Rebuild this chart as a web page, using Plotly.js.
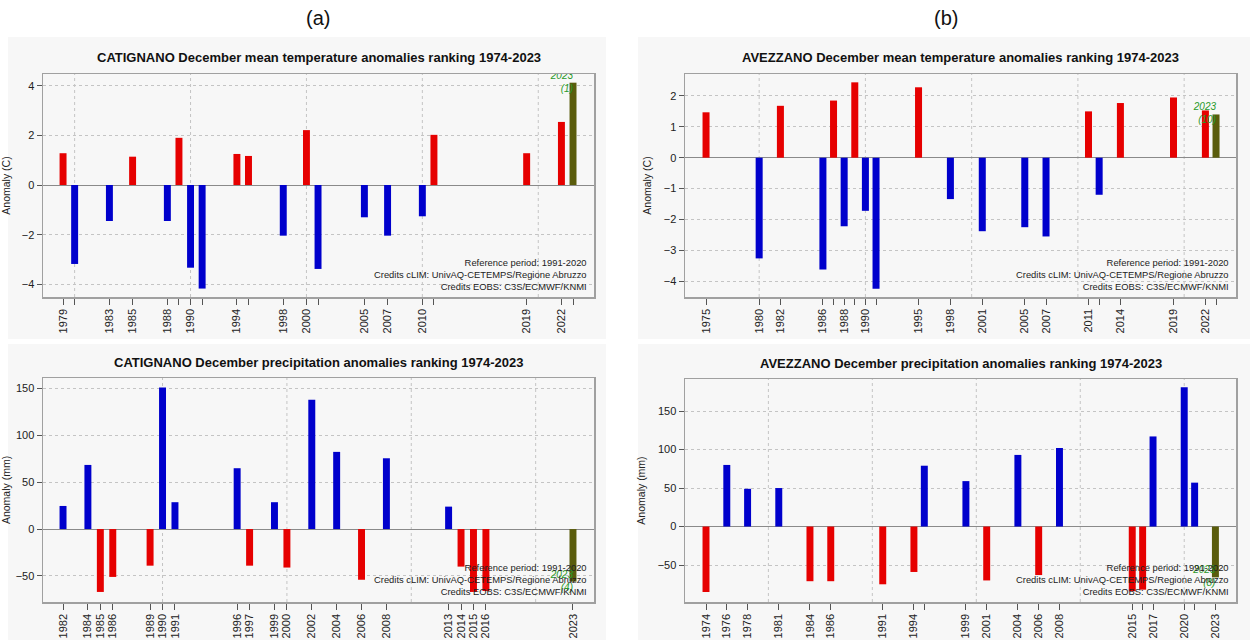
<!DOCTYPE html>
<html>
<head>
<meta charset="utf-8">
<script src="https://cdn.plot.ly/plotly-3.0.1.min.js"></script>
<style>html,body{margin:0;padding:0;background:#fff;}#chart{width:1250px;height:640px;}</style>
</head>
<body>
<div id="chart"></div>
<script>
// ---------- DATA ----------
// (a) CATIGNANO December mean temperature anomalies (°C)
const catTempYears  = [1979, 1980, 1983, 1985, 1988, 1989, 1990, 1991, 1994, 1995, 1998, 2000, 2001, 2005, 2007, 2010, 2011, 2019, 2022, 2023];
const catTempValues = [1.28, -3.18, -1.45, 1.14, -1.45, 1.9, -3.33, -4.17, 1.25, 1.17, -2.04, 2.21, -3.38, -1.3, -2.04, -1.26, 2.02, 1.28, 2.54, 4.12];
const catTempLabeled = [1979, 1983, 1985, 1988, 1990, 1994, 1998, 2000, 2005, 2007, 2010, 2019, 2022];
const catTempRank = "(1)";

// (b) AVEZZANO December mean temperature anomalies (°C)
const aveTempYears  = [1975, 1980, 1982, 1986, 1987, 1988, 1989, 1990, 1991, 1995, 1998, 2001, 2005, 2007, 2011, 2012, 2014, 2019, 2022, 2023];
const aveTempValues = [1.47, -3.26, 1.68, -3.62, 1.85, -2.22, 2.44, -1.72, -4.24, 2.28, -1.34, -2.38, -2.25, -2.55, 1.5, -1.2, 1.77, 1.95, 1.53, 1.4];
const aveTempLabeled = [1975, 1980, 1982, 1986, 1988, 1990, 1995, 1998, 2001, 2005, 2007, 2011, 2014, 2019, 2022];
const aveTempRank = "(10)";

// (a) CATIGNANO December precipitation anomalies (mm)
const catPrecYears  = [1982, 1984, 1985, 1986, 1989, 1990, 1991, 1996, 1997, 1999, 2000, 2002, 2004, 2006, 2008, 2013, 2014, 2015, 2016, 2023];
const catPrecValues = [24.6, 68.3, -67, -51, -39, 150.7, 28.6, 64.8, -39, 28.6, -41, 137.6, 82.2, -54, 75.4, 23.9, -40, -67, -66, -56];
const catPrecLabeled = catPrecYears.slice();
const catPrecRank = "(4)";

// (b) AVEZZANO December precipitation anomalies (mm)
const avePrecYears  = [1974, 1976, 1978, 1981, 1984, 1986, 1991, 1994, 1995, 1999, 2001, 2004, 2006, 2008, 2015, 2016, 2017, 2020, 2021, 2023];
const avePrecValues = [-85, 80, 49, 50, -71, -71, -75, -59, 79, 59, -70, 93, -63, 102, -84, -82, 117, 181, 57, -66];
const avePrecLabeled = [1974, 1976, 1978, 1981, 1984, 1986, 1991, 1994, 1999, 2001, 2004, 2006, 2008, 2015, 2017, 2020, 2023];
const avePrecRank = "(8)";

const decades = [1980, 1990, 2000, 2010, 2020];
const creditLines = ["Reference period: 1991-2020", "Credits cLIM: UnivAQ-CETEMPS/Regione Abruzzo", "Credits EOBS: C3S/ECMWF/KNMI"];

// ---------- STYLE ----------
const RED = "#e60000", BLUE = "#0000cc", OLIVE = "#5a5c0c", GREEN = "#2a9a2a";
const FONT = "Liberation Sans, Arial, sans-serif";
const W = 1250, H = 640;

const panels = [
  {ax: "", title: "CATIGNANO December mean temperature anomalies ranking 1974-2023", ytitle: "Anomaly (C)",
   years: catTempYears, values: catTempValues, labeled: catTempLabeled, rank: catTempRank, pos: RED, neg: BLUE,
   px: [43, 594], py: [74, 297], xr: [1977.27, 2024.81], yr: [-4.51, 4.47], dtick: 2, bw: 0.6, ty: 57},
  {ax: "2", title: "AVEZZANO December mean temperature anomalies ranking 1974-2023", ytitle: "Anomaly (C)",
   years: aveTempYears, values: aveTempValues, labeled: aveTempLabeled, rank: aveTempRank, pos: RED, neg: BLUE,
   px: [685, 1236], py: [74, 297], xr: [1973.02, 2024.88], yr: [-4.51, 2.71], dtick: 1, bw: 0.66, ty: 57},
  {ax: "3", title: "CATIGNANO December precipitation anomalies ranking 1974-2023", ytitle: "Anomaly (mm)",
   years: catPrecYears, values: catPrecValues, labeled: catPrecLabeled, rank: catPrecRank, pos: BLUE, neg: RED,
   px: [43, 594], py: [378, 602], xr: [1980.39, 2024.69], yr: [-77.7, 160.9], dtick: 50, bw: 0.56, ty: 362},
  {ax: "4", title: "AVEZZANO December precipitation anomalies ranking 1974-2023", ytitle: "Anomaly (mm)",
   years: avePrecYears, values: avePrecValues, labeled: avePrecLabeled, rank: avePrecRank, pos: BLUE, neg: RED,
   px: [685, 1236], py: [379, 602], xr: [1971.98, 2024.98], yr: [-98, 191.6], dtick: 50, bw: 0.67, ty: 363}
];

const traces = [];
const layout = {
  width: W, height: H, autosize: false,
  margin: {l: 0, r: 0, t: 0, b: 0, pad: 0},
  paper_bgcolor: "#ffffff", plot_bgcolor: "#f7f7f7",
  showlegend: false,
  font: {family: FONT, color: "#222"},
  shapes: [], annotations: []
};

// panel backgrounds
[[8, 606, 37, 339], [8, 606, 344, 640], [638, 1250, 37, 339], [638, 1250, 344, 640]].forEach(r => {
  layout.shapes.push({type: "rect", xref: "paper", yref: "paper", layer: "below",
    x0: r[0] / W, x1: r[1] / W, y0: 1 - r[3] / H, y1: 1 - r[2] / H,
    fillcolor: "#f7f7f7", line: {width: 0}});
});

panels.forEach(p => {
  const xa = "x" + p.ax, ya = "y" + p.ax;
  const last = p.years.length - 1;
  const colors = p.values.map((v, i) => i === last ? OLIVE : (v > 0 ? p.pos : p.neg));
  traces.push({type: "bar", x: p.years, y: p.values, xaxis: xa, yaxis: ya, width: p.bw,
    marker: {color: colors, line: {width: 0}}, hoverinfo: "x+y"});
  // rank label for the latest year
  traces.push({type: "scatter", mode: "text", x: [p.years[last]], y: [p.values[last]], xaxis: xa, yaxis: ya,
    text: [String(p.years[last]) + "<br>" + p.rank], textposition: "middle left", cliponaxis: true,
    textfont: {family: FONT, size: 10, color: GREEN, style: "italic"}, hoverinfo: "skip"});

  const ticktext = p.years.map(y => p.labeled.includes(y) ? String(y) : "");
  layout["xaxis" + p.ax] = {
    domain: [p.px[0] / W, p.px[1] / W], anchor: ya, range: p.xr, fixedrange: true,
    tickmode: "array", tickvals: p.years, ticktext: ticktext, tickangle: -90,
    ticks: "outside", ticklen: 6, tickwidth: 1, tickcolor: "#555",
    tickfont: {family: FONT, size: 11, color: "#222"},
    showgrid: false, zeroline: false,
    showline: true, mirror: true, linecolor: "#a0a0a0", linewidth: 1.5
  };
  layout["yaxis" + p.ax] = {
    domain: [1 - p.py[1] / H, 1 - p.py[0] / H], anchor: xa, range: p.yr, fixedrange: true,
    dtick: p.dtick, tick0: 0,
    ticks: "outside", ticklen: 5, tickwidth: 1, tickcolor: "#555",
    tickfont: {family: FONT, size: 11, color: "#222"},
    showgrid: true, gridcolor: "#c4c4c4", griddash: "dot", gridwidth: 1,
    zeroline: true, zerolinecolor: "#8a8a8a", zerolinewidth: 1,
    showline: true, mirror: true, linecolor: "#a0a0a0", linewidth: 1.5,
    title: {text: p.ytitle, font: {family: FONT, size: 10.5, color: "#222"}, standoff: 10}
  };
  decades.filter(d => d > p.xr[0] && d < p.xr[1]).forEach(d => {
    layout.shapes.push({type: "line", xref: xa, yref: ya + " domain", layer: "below",
      x0: d, x1: d, y0: 0, y1: 1, line: {color: "#c4c4c4", width: 1, dash: "dot"}});
  });
  // panel title
  layout.annotations.push({xref: "paper", yref: "paper", x: (p.px[0] + p.px[1]) / 2 / W, y: 1 - p.ty / H,
    xanchor: "center", yanchor: "middle", showarrow: false, text: "<b>" + p.title + "</b>",
    font: {family: FONT, size: 13, color: "#111"}});
  // credits
  layout.annotations.push({xref: xa + " domain", yref: ya + " domain", x: 1, y: 0, xshift: -5, yshift: 3,
    xanchor: "right", yanchor: "bottom", align: "right", showarrow: false,
    text: creditLines.join("<br>"), font: {family: FONT, size: 9.4, color: "#222"}});
});

// panel labels
layout.annotations.push({xref: "paper", yref: "paper", x: 318 / W, y: 1 - 18 / H, xanchor: "center", yanchor: "middle",
  showarrow: false, text: "(a)", font: {family: FONT, size: 20, color: "#111"}});
layout.annotations.push({xref: "paper", yref: "paper", x: 946 / W, y: 1 - 18 / H, xanchor: "center", yanchor: "middle",
  showarrow: false, text: "(b)", font: {family: FONT, size: 20, color: "#111"}});

Plotly.newPlot("chart", traces, layout, {displayModeBar: false, staticPlot: true});
</script>
</body>
</html>
